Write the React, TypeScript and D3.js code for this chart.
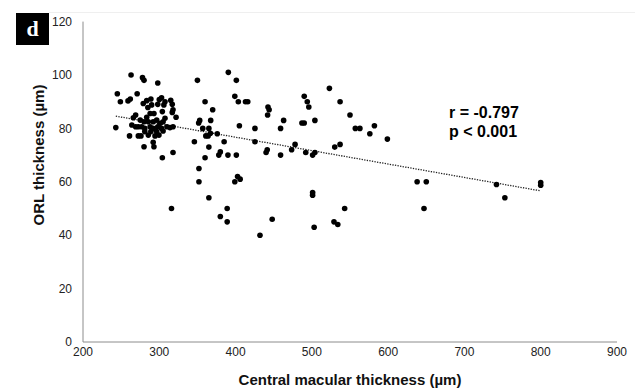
import React from "react";
import * as d3 from "d3";

// Central macular thickness (µm)
const cmt: number[] = [
  263, 278, 280, 298, 245, 271, 249, 259, 262, 279, 283.5, 289, 300, 303, 307.5, 298, 306, 315, 317, 285,
  290, 318, 317, 288, 293, 283.5, 269, 266, 304, 307.5, 322, 275, 280, 285.6, 292, 296.6, 301, 305, 264, 269,
  272.5, 277, 281, 288, 292, 298, 303, 310, 314, 318, 243, 261, 272.5, 276, 285.6, 294.4, 299.6, 281, 289, 296.6,
  305, 280, 292, 293, 304, 318,
  390.5, 350, 401, 399, 403.6, 413, 416, 360, 442.5, 444, 442, 370, 463, 353, 351.6, 367.4, 405, 425.4, 459, 357,
  365, 367, 361, 364, 376, 346, 385, 425.4, 365, 380, 378, 390, 401, 441.5, 440, 459, 360, 352, 352, 402.6,
  406, 399, 365, 316, 389, 380, 389, 448, 432,
  523, 490, 494, 496, 537, 487, 490, 504, 550, 557, 563, 582, 576, 599, 478, 473.5, 492, 504, 501, 537,
  530, 638, 650, 647, 501, 501, 543, 529, 534, 503,
  742, 753, 800, 800,
];

// ORL thickness (µm)
const orl: number[] = [
  100, 99, 98, 97, 93, 93, 90, 90.3, 91, 89.3, 90.4, 91, 90.8, 91.5, 90, 89, 88.8, 90.5, 89, 87.8,
  88.8, 87, 86, 85.6, 85.6, 84.2, 85, 84, 86.3, 83.8, 84.2, 83.1, 82.5, 82.5, 82.5, 83.1, 81.9, 82.5, 81.3, 80.6,
  80.6, 80.6, 80, 80.6, 80, 80.6, 80, 80.6, 80.3, 80.6, 80.3, 77.2, 77.2, 77.2, 77.5, 77.2, 77.5, 78.8, 78.8, 78.8,
  79, 73.1, 74.8, 73.1, 69, 71,
  101, 98, 98, 92, 90, 90, 90, 90, 88, 87, 85, 87, 83, 83, 82, 83, 81, 80, 80, 80,
  80, 78.2, 77.2, 77.2, 78, 75, 75, 75, 73, 71.2, 70, 70, 70, 72, 71, 70, 69, 65, 60, 62,
  61, 60, 54, 50, 50, 47, 45, 46, 40,
  95, 92, 90, 88, 90, 82, 82, 83, 85, 80, 80, 81, 78, 76, 74, 72, 71, 71, 70, 74,
  73, 60, 60, 50, 56, 55, 50, 45, 44, 43,
  59, 54, 59.7, 58.7,
];

// Linear trend line end points
const trendX: number[] = [243, 800];
const trendY: number[] = [84.6, 56.6];

const xTicks: number[] = [200, 300, 400, 500, 600, 700, 800, 900];
const yTicks: number[] = [0, 20, 40, 60, 80, 100, 120];

const stats: string[] = ["r = -0.797", "p < 0.001"];
const xTitle = "Central macular thickness (µm)";
const yTitle = "ORL thickness (µm)";
const panelLabel = "d";

export default function App() {
  const W = 635;
  const H = 392;
  const x = d3.scaleLinear().domain([200, 900]).range([83, 617]);
  const y = d3.scaleLinear().domain([0, 120]).range([342, 21.6]);
  const font = "'Liberation Sans', Arial, Helvetica, sans-serif";
  const line = d3
    .line<number>()
    .x((_, i) => x(trendX[i]))
    .y((d) => y(d));

  return (
    <svg
      width={W}
      height={H}
      viewBox={`0 0 ${W} ${H}`}
      style={{ position: "absolute", left: 0, top: 0, background: "#fff" }}
    >
      <rect x={0} y={0} width={W} height={H} fill="#fff" />
      {/* faint separator from the figure above */}
      <line x1={49} x2={W} y1={12.5} y2={12.5} stroke="#efefef" strokeWidth={1} />

      {/* panel label */}
      <rect x={16} y={13} width={33} height={32} fill="#000" />
      <text
        x={32.5}
        y={36}
        textAnchor="middle"
        fill="#fff"
        fontFamily="'Liberation Serif', 'DejaVu Serif', serif"
        fontWeight="bold"
        fontSize={22}
      >
        {panelLabel}
      </text>

      {/* axes */}
      <line x1={x(200)} x2={x(200)} y1={y(120)} y2={y(0)} stroke="#8c8c8c" strokeWidth={1} />
      <line x1={x(200)} x2={x(900)} y1={y(0)} y2={y(0)} stroke="#8c8c8c" strokeWidth={1} />

      {yTicks.map((t) => (
        <text
          key={"y" + t}
          x={72}
          y={y(t)}
          dy="0.35em"
          textAnchor="end"
          fontFamily={font}
          fontSize={12}
          fill="#222"
        >
          {t}
        </text>
      ))}
      {xTicks.map((t) => (
        <text
          key={"x" + t}
          x={x(t)}
          y={356}
          textAnchor="middle"
          fontFamily={font}
          fontSize={12}
          fill="#222"
        >
          {t}
        </text>
      ))}

      <text
        x={350}
        y={385}
        textAnchor="middle"
        fontFamily={font}
        fontWeight="bold"
        fontSize={15}
        fill="#111"
      >
        {xTitle}
      </text>
      <text
        transform={`translate(44,155) rotate(-90)`}
        textAnchor="middle"
        fontFamily={font}
        fontWeight="bold"
        fontSize={15}
        fill="#111"
      >
        {yTitle}
      </text>

      {/* trend line */}
      <path
        d={line(trendY) || ""}
        fill="none"
        stroke="#222"
        strokeWidth={1.3}
        strokeDasharray="1.3 1.3"
      />

      {/* points */}
      {cmt.map((v, i) => (
        <circle key={i} cx={x(v)} cy={y(orl[i])} r={2.8} fill="#000" />
      ))}

      {/* statistics */}
      {stats.map((s, i) => (
        <text
          key={s}
          x={449}
          y={118 + i * 19}
          fontFamily={font}
          fontWeight="bold"
          fontSize={16}
          fill="#000"
        >
          {s}
        </text>
      ))}
    </svg>
  );
}
